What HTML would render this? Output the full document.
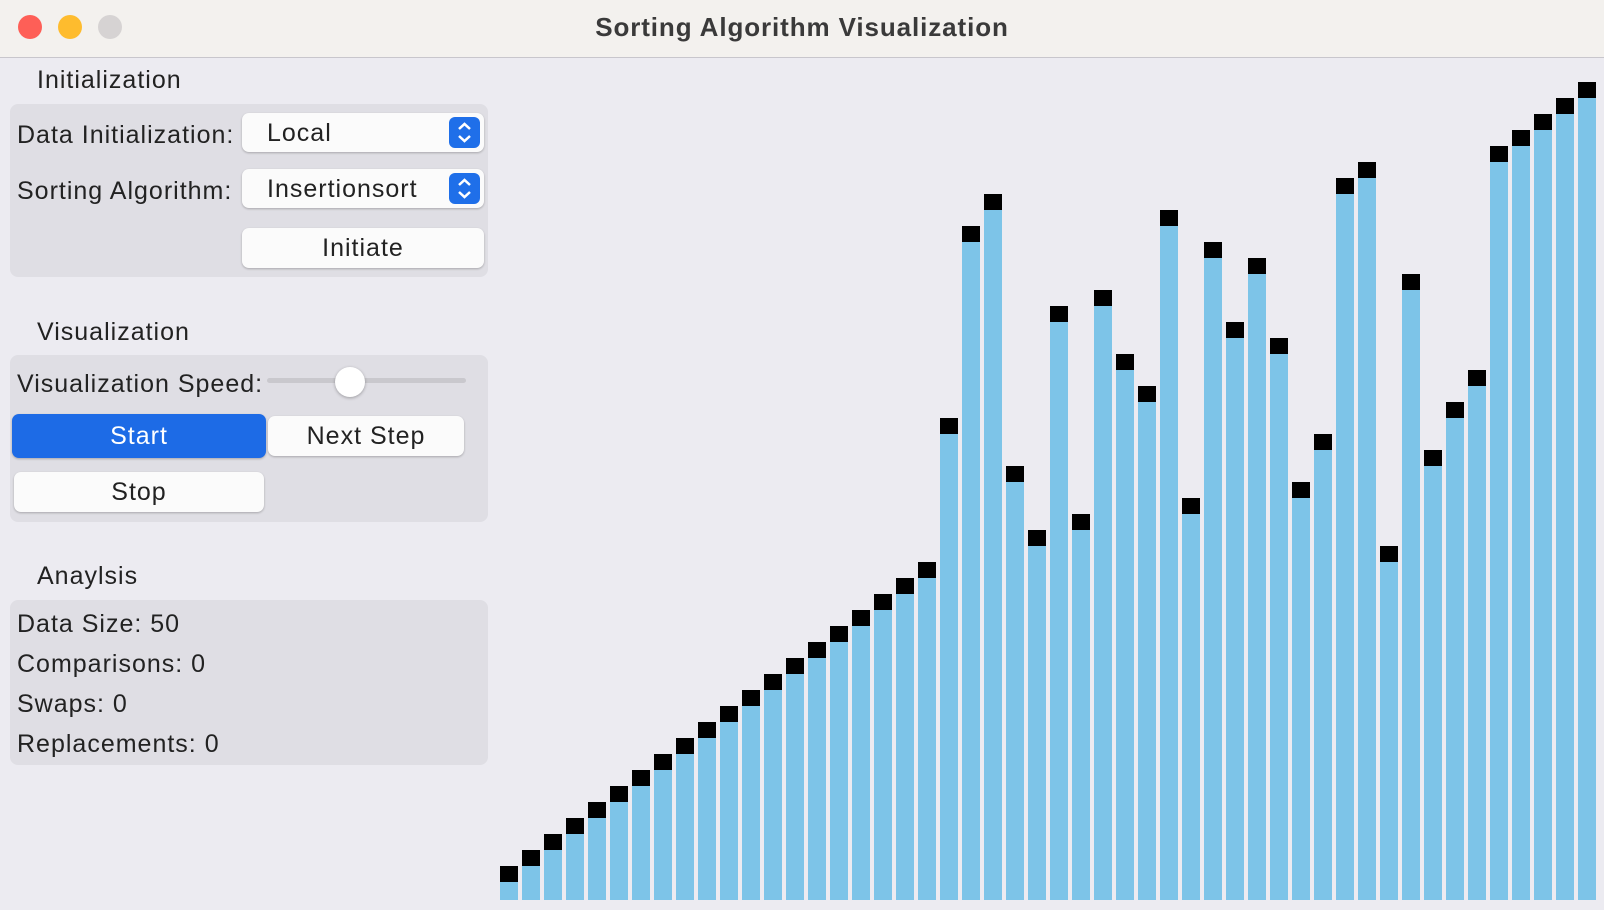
<!DOCTYPE html>
<html><head><meta charset="utf-8"><style>
body{margin:0;width:1604px;height:910px;overflow:hidden;background:#ecebf1;font-family:"Liberation Sans",sans-serif;color:#222;position:relative}
.a{position:absolute}
.t{font-size:25px;letter-spacing:1px;white-space:nowrap}
.grp{position:absolute;background:#dfdee4;border-radius:8px}
.btn{position:absolute;background:#fbfbfb;border-radius:7px;box-shadow:0 1px 2px rgba(0,0,0,.25);font-size:25px;letter-spacing:1px;text-align:center}
.stp{position:absolute;right:4px;top:4px;width:31px;height:31px;border-radius:6px;background:#1f6fe9}
</style></head><body>
<div class="a" style="left:0;top:0;width:1604px;height:57px;background:#f3f1ee;border-bottom:1px solid #c8c6cc"></div>
<div class="a" style="left:18px;top:15px;width:24px;height:24px;border-radius:50%;background:#fe5f57"></div>
<div class="a" style="left:58px;top:15px;width:24px;height:24px;border-radius:50%;background:#febc2e"></div>
<div class="a" style="left:98px;top:15px;width:24px;height:24px;border-radius:50%;background:#d6d3d3"></div>
<div class="a" style="left:0;width:1604px;top:12px;text-align:center;font-weight:bold;font-size:26px;letter-spacing:0.9px;color:#3a3a3a">Sorting Algorithm Visualization</div>

<div class="a t" style="left:37px;top:66px">Initialization</div>
<div class="grp" style="left:10px;top:104px;width:478px;height:173px"></div>
<div class="a t" style="left:17px;top:121px">Data Initialization:</div>
<div class="btn" style="left:242px;top:113px;width:242px;height:39px;text-align:left"><span style="position:absolute;left:25px;top:6px">Local</span><span class="stp"><svg width="31" height="31"><path d="M10 12 L15.5 7 L21 12 M10 19 L15.5 24 L21 19" stroke="#fff" stroke-width="2.5" fill="none"/></svg></span></div>
<div class="a t" style="left:17px;top:177px">Sorting Algorithm:</div>
<div class="btn" style="left:242px;top:169px;width:242px;height:39px;text-align:left"><span style="position:absolute;left:25px;top:6px">Insertionsort</span><span class="stp"><svg width="31" height="31"><path d="M10 12 L15.5 7 L21 12 M10 19 L15.5 24 L21 19" stroke="#fff" stroke-width="2.5" fill="none"/></svg></span></div>
<div class="btn" style="left:242px;top:228px;width:242px;height:40px;line-height:40px">Initiate</div>

<div class="a t" style="left:37px;top:318px">Visualization</div>
<div class="grp" style="left:10px;top:355px;width:478px;height:167px"></div>
<div class="a t" style="left:17px;top:370px">Visualization Speed:</div>
<div class="a" style="left:267px;top:378px;width:199px;height:5px;border-radius:3px;background:#c9c8cd"></div>
<div class="a" style="left:335px;top:367px;width:30px;height:30px;border-radius:50%;background:#fff;box-shadow:0 1px 3px rgba(0,0,0,.3)"></div>
<div class="btn" style="left:12px;top:414px;width:254px;height:44px;line-height:44px;background:#1d6be6;color:#fff">Start</div>
<div class="btn" style="left:268px;top:416px;width:196px;height:40px;line-height:40px">Next Step</div>
<div class="btn" style="left:14px;top:472px;width:250px;height:40px;line-height:40px">Stop</div>

<div class="a t" style="left:37px;top:562px">Anaylsis</div>
<div class="grp" style="left:10px;top:600px;width:478px;height:165px"></div>
<div class="a t" style="left:17px;top:610px">Data Size: 50</div>
<div class="a t" style="left:17px;top:650px">Comparisons: 0</div>
<div class="a t" style="left:17px;top:690px">Swaps: 0</div>
<div class="a t" style="left:17px;top:730px">Replacements: 0</div>

<svg class="a" id="chart" style="left:0;top:0" width="1604" height="910"></svg>
<script>
const indices = Array.from({length:50},(_, i)=>i+1);
const values = [2,3,4,5,6,7,8,9,10,11,12,13,14,15,16,17,18,19,20,21,30,42,44,27,23,37,24,38,34,32,43,25,41,36,40,35,26,29,45,46,22,39,28,31,33,47,48,49,50,51];
const X0=500, PITCH=22, BW=18, BASE=900, UNIT=16;
function xPos(i){return X0+i*PITCH;}
function yPos(v){return BASE-(v*UNIT+2);}
const svg=document.getElementById('chart');
const NS='http://www.w3.org/2000/svg';
values.forEach((v,i)=>{
  const r=document.createElementNS(NS,'rect');
  r.setAttribute('x',xPos(i));r.setAttribute('y',yPos(v));
  r.setAttribute('width',BW);r.setAttribute('height',BASE-yPos(v));
  r.setAttribute('fill','#7dc4e8');
  
  
  svg.appendChild(r);
  const m=document.createElementNS(NS,'rect');
  m.setAttribute('x',xPos(i));m.setAttribute('y',yPos(v));
  m.setAttribute('width',BW);m.setAttribute('height',16);
  m.setAttribute('fill','#000');
  
  
  svg.appendChild(m);
});
</script>
</body></html>
